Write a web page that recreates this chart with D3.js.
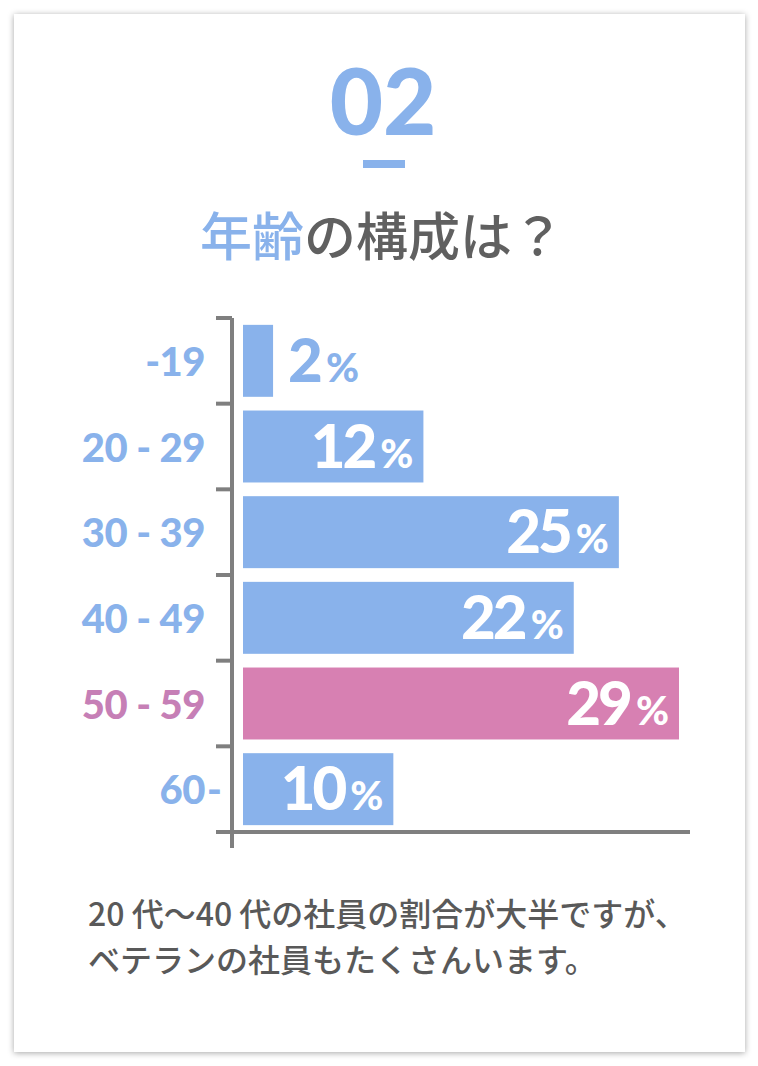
<!DOCTYPE html>
<meta charset="utf-8">
<style type="text/css">
body { margin: 0; background: #fff; }
.num { font-family: Lato, "Open Sans", sans-serif; font-weight: 900; }
.jp { font-family: "Noto Sans CJK JP", sans-serif; }
.axis-line { stroke: #7f7f7f; stroke-width: 4; fill: none; }
</style>
<body>
  <div id="chart"></div>
</body>
<script src="https://d3js.org/d3.v7.min.js"></script>
<script>

// data
var categories = ["-19", "20 - 29", "30 - 39", "40 - 49", "50 - 59", "60 -"];
var values = [2, 12, 25, 22, 29, 10];
var highlight = "50 - 59";
var titleNo = "02";
var titleBlue = "年齢";
var titleGray = "の構成は？";
var notes = ["20 代〜40 代の社員の割合が大半ですが、", "ベテランの社員もたくさんいます。"];

var blue = "#89b2eb", pink = "#d780b2", pinkText = "#c67fb6", gray = "#606060";

var W = 758, H = 1066;

var svg = d3.select("#chart").append("svg")
    .attr("width", W)
    .attr("height", H);

// card shadow
var defs = svg.append("defs");
var f = defs.append("filter").attr("id", "shadow")
    .attr("x", "-5%").attr("y", "-5%").attr("width", "110%").attr("height", "110%");
f.append("feDropShadow").attr("dx", 0).attr("dy", 1).attr("stdDeviation", 3)
    .attr("flood-color", "#000").attr("flood-opacity", 0.35);

svg.append("rect")
    .attr("x", 14).attr("y", 14)
    .attr("width", 731).attr("height", 1038)
    .attr("fill", "#fff")
    .attr("filter", "url(#shadow)");

// header
svg.append("text")
    .attr("class", "num")
    .attr("x", 383).attr("y", 135)
    .attr("text-anchor", "middle")
    .attr("font-size", 92)
    .attr("fill", blue)
    .text(titleNo);

svg.append("rect")
    .attr("x", 363).attr("y", 160)
    .attr("width", 42).attr("height", 8)
    .attr("fill", blue);

var t = svg.append("text")
    .attr("class", "jp")
    .attr("x", 382).attr("y", 256)
    .attr("text-anchor", "middle")
    .attr("font-size", 52)
    .attr("font-weight", 500);
t.append("tspan").attr("fill", blue).text(titleBlue);
t.append("tspan").attr("fill", gray).text(titleGray);

// scales
var x = d3.scaleLinear()
    .domain([0, 29])
    .range([243, 679]);

var y = d3.scaleBand()
    .domain(categories)
    .range([318, 832])
    .paddingInner(0.16)
    .paddingOuter(0.08);

var bounds = d3.range(categories.length).map(function(i) { return 318 + i * y.step(); });

// ticks at band boundaries
svg.selectAll(".tick-mark")
    .data(bounds)
  .enter().append("line")
    .attr("class", "axis-line")
    .attr("x1", 216).attr("x2", 232)
    .attr("y1", function(d) { return d; })
    .attr("y2", function(d) { return d; });

// bars
svg.selectAll(".bar")
    .data(values)
  .enter().append("rect")
    .attr("class", "bar")
    .attr("x", x(0))
    .attr("y", function(d, i) { return y(categories[i]); })
    .attr("width", function(d) { return x(d) - x(0); })
    .attr("height", y.bandwidth())
    .attr("fill", function(d, i) { return categories[i] === highlight ? pink : blue; });

// axes
svg.append("line").attr("class", "axis-line")
    .attr("x1", 232).attr("x2", 232)
    .attr("y1", 318).attr("y2", 848);
svg.append("line").attr("class", "axis-line")
    .attr("x1", 216).attr("x2", 690)
    .attr("y1", 832).attr("y2", 832);

// category labels: digits end at x=205, a trailing dash hangs past it
var cats = svg.selectAll(".cat")
    .data(categories)
  .enter().append("g")
    .attr("class", "cat")
    .attr("fill", function(d) { return d === highlight ? pinkText : blue; });

cats.append("text")
    .attr("class", "num")
    .attr("x", 205)
    .attr("y", function(d) { return y(d) + y.bandwidth() / 2 + 15; })
    .attr("text-anchor", "end")
    .attr("font-size", 40)
    .attr("letter-spacing", -0.5)
    .text(function(d) { return d.replace(/ -$/, ""); });

cats.filter(function(d) { return / -$/.test(d); })
  .append("text")
    .attr("class", "num")
    .attr("x", 207)
    .attr("y", function(d) { return y(d) + y.bandwidth() / 2 + 15; })
    .attr("font-size", 40)
    .text("-");

// value labels
var vl = svg.selectAll(".val")
    .data(values)
  .enter().append("text")
    .attr("class", "num val")
    .attr("y", function(d, i) { return y(categories[i]) + y.bandwidth() / 2 + 21; })
    .attr("x", function(d) { return d < 5 ? x(d) + 15 : x(d) - 10; })
    .attr("text-anchor", function(d) { return d < 5 ? "start" : "end"; })
    .attr("fill", function(d) { return d < 5 ? blue : "#fff"; });
vl.append("tspan")
    .attr("font-size", 60)
    .attr("letter-spacing", -3)
    .text(function(d) { return d; });
vl.append("tspan")
    .attr("font-size", 40)
    .attr("dx", 6)
    .text("%");

// notes
svg.selectAll(".note")
    .data(notes)
  .enter().append("text")
    .attr("class", "jp note")
    .attr("x", 88)
    .attr("y", function(d, i) { return 926 + i * 46; })
    .attr("font-size", 32)
    .attr("font-weight", 500)
    .attr("fill", "#595959")
    .text(function(d) { return d; });

</script>
